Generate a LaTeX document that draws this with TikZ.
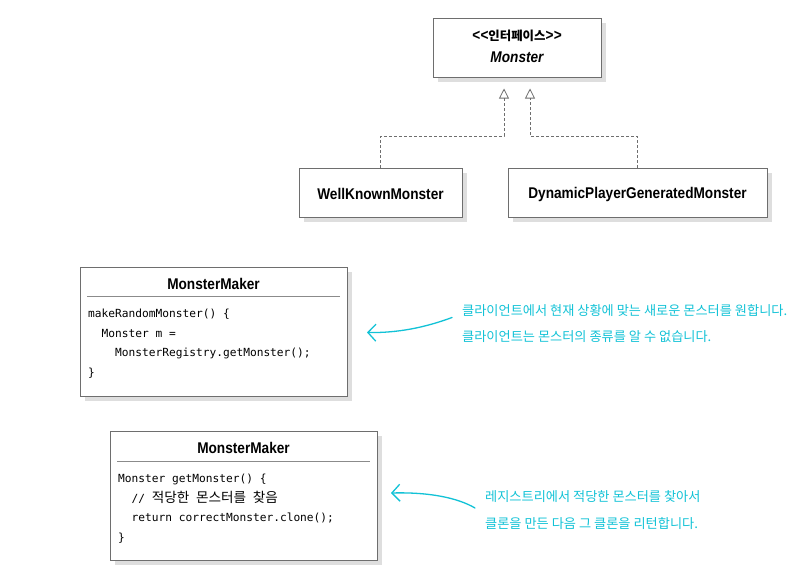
\documentclass[tikz,border=0pt]{standalone}
\usepackage{fontspec}
\setmainfont{Liberation Sans}[FakeStretch=0.88]
\newfontfamily\kr{Noto Sans CJK KR}
\newfontfamily\codefont{DejaVu Sans Mono}
\usetikzlibrary{arrows.meta,shadows}
\definecolor{bordergray}{RGB}{110,110,110}
\definecolor{shadowgray}{RGB}{222,222,222}
\definecolor{note}{RGB}{18,194,214}
\tikzset{
  umlbox/.style={draw=bordergray, line width=0.9pt, fill=white, inner sep=0pt,
    drop shadow={shadow xshift=4.5pt, shadow yshift=-4.5pt, fill=shadowgray, opacity=1}},
  boldlabel/.style={inner sep=0pt, font=\fontsize{15.5}{18}\selectfont\bfseries},
  codeline/.style={inner sep=0pt, anchor=base west, font=\fontsize{11.2}{14}\selectfont\codefont},
  sepline/.style={draw=bordergray!80, line width=0.7pt},
  realize/.style={draw=bordergray, line width=0.8pt, dash pattern=on 3pt off 2pt,
    -{Triangle[open, length=10pt, width=10pt, line width=0.8pt]}},
  notetext/.style={inner sep=0pt, anchor=west, text=note, font=\fontsize{13.2}{15}\selectfont\kr},
  notearrow/.style={draw=note, line width=1.3pt, line cap=round,
    -{Straight Barb[length=8pt, width=17pt, line width=1.3pt]}}
}
\begin{document}
\begin{tikzpicture}[x=1pt, y=-1pt]
\useasboundingbox (0,0) rectangle (800,571);

% interface
\node[umlbox, minimum width=168pt, minimum height=59pt] (iface) at (517,47.5) {};
\node[boldlabel] (stereo) at (517,36) {<\kern0.3pt<{\kr\fontsize{12.4}{14}\selectfont 인터페이스}>\kern0.3pt>};
\node[boldlabel, font=\fontsize{15.5}{18}\selectfont\bfseries\itshape] (iname) at (517,57) {Monster};

% implementations
\node[umlbox, minimum width=163pt, minimum height=49pt] (wkm) at (380.5,192.5) {};
\node[boldlabel] (wkmt) at (380.5,194) {WellKnownMonster};
\node[umlbox, minimum width=259pt, minimum height=49pt] (dpgm) at (637.5,192.5) {};
\node[boldlabel] (dpgmt) at (637.5,194) {DynamicPlayerGeneratedMonster};

\coordinate (tipL) at (504,88.5);
\coordinate (tipR) at (530,88.5);
\coordinate (bendL) at (504,136);
\coordinate (bendR) at (530,136);
\draw[realize] (wkm.north) |- (bendL) -- (tipL);
\draw[realize] (dpgm.north) |- (bendR) -- (tipR);

% MonsterMaker 1
\node[umlbox, minimum width=267pt, minimum height=129pt] (mm1) at (213.5,331.5) {};
\node[boldlabel] (mm1t) at (213.5,283.5) {MonsterMaker};
\coordinate (s1a) at (87,296);
\coordinate (s1b) at (340,296);
\draw[sepline] (s1a) -- (s1b);
\node[codeline] (m1l1) at (88,317.5) {makeRandomMonster() \{};
\node[codeline] (m1l2) at (88,337) {\hphantom{xx}Monster m =};
\node[codeline] (m1l3) at (88,356.5) {\hphantom{xxxx}MonsterRegistry.getMonster();};
\node[codeline] (m1l4) at (88,376) {\}};

% MonsterMaker 2
\node[umlbox, minimum width=267pt, minimum height=129pt] (mm2) at (243.5,495.5) {};
\node[boldlabel] (mm2t) at (243.5,448) {MonsterMaker};
\coordinate (s2a) at (117,461);
\coordinate (s2b) at (370,461);
\draw[sepline] (s2a) -- (s2b);
\node[codeline] (m2l1) at (118,482.5) {Monster getMonster() \{};
\node[codeline] (m2l2) at (118,502) {\hphantom{xx}// {\kr\fontsize{13.6}{14}\selectfont 적당한}\ {\kr\fontsize{13.6}{14}\selectfont 몬스터를}\ {\kr\fontsize{13.6}{14}\selectfont 찾음}};
\node[codeline] (m2l3) at (118,521.5) {\hphantom{xx}return correctMonster.clone();};
\node[codeline] (m2l4) at (118,541) {\}};

% notes
\node[notetext] (n1a) at (462,311) {클라이언트에서 현재 상황에 맞는 새로운 몬스터를 원합니다.};
\node[notetext] (n1b) at (462,337) {클라이언트는 몬스터의 종류를 알 수 없습니다.};
\coordinate (a1s) at (452,317.5);
\coordinate (a1e) at (367,332.5);
\draw[notearrow] (a1s) .. controls (425,327.5) and (398,333) .. (a1e);

\node[notetext] (n2a) at (485,497) {레지스트리에서 적당한 몬스터를 찾아서};
\node[notetext] (n2b) at (485,523) {클론을 만든 다음 그 클론을 리턴합니다.};
\coordinate (a2s) at (475,508);
\coordinate (a2e) at (391,493);
\draw[notearrow] (a2s) .. controls (458,498) and (430,492) .. (a2e);
\end{tikzpicture}
\end{document}
